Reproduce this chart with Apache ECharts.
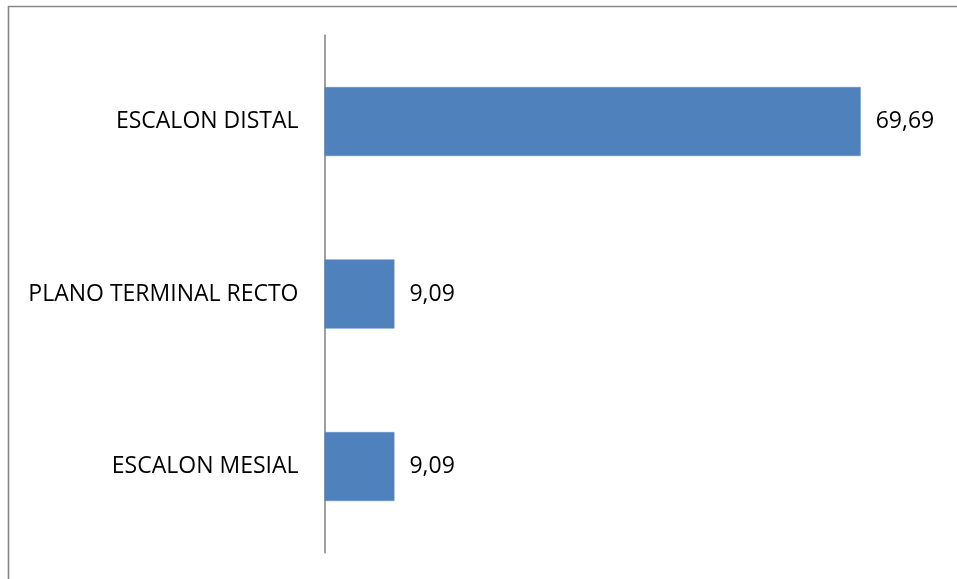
<!DOCTYPE html>
<html>
<head>
<meta charset="utf-8">
<script src="https://cdn.jsdelivr.net/npm/echarts@6/dist/echarts.min.js"></script>
<style>
  html, body { margin: 0; padding: 0; background: #ffffff; }
  #chart { width: 957px; height: 579px; }
</style>
</head>
<body>
<div id="chart"></div>
<script>
// Categories (top to bottom) and their percentages
const categories = ['ESCALON DISTAL', 'PLANO TERMINAL RECTO', 'ESCALON MESIAL'];
const values = [69.69, 9.09, 9.09];
const axisMax = 80;

const fmt = v => v.toFixed(2).replace('.', ',');

const chart = echarts.init(document.getElementById('chart'), null, { renderer: 'canvas' });

chart.setOption({
  animation: false,
  backgroundColor: '#ffffff',
  textStyle: { fontFamily: '"Open Sans", sans-serif' },
  graphic: [{
    type: 'rect',
    silent: true,
    shape: { x: 8.5, y: 6.5, width: 1000, height: 1000 },
    style: { fill: 'none', stroke: '#878787', lineWidth: 1.6 }
  }],
  grid: { left: 324.5, top: 35.25, width: 615.5, height: 517.5, containLabel: false },
  xAxis: {
    type: 'value',
    min: 0,
    max: axisMax,
    show: false
  },
  yAxis: {
    type: 'category',
    data: categories,
    inverse: true,
    axisLine: { show: true, lineStyle: { color: '#878787', width: 1.6 } },
    axisTick: { show: false },
    splitLine: { show: false },
    axisLabel: {
      margin: 26,
      color: '#000000',
      fontSize: 23,
      fontFamily: '"Open Sans", sans-serif'
    }
  },
  series: [{
    type: 'bar',
    data: values,
    barCategoryGap: '60%',
    itemStyle: { color: '#4f81bd', borderColor: '#5b8cc6', borderWidth: 0.5 },
    label: {
      show: true,
      position: 'right',
      distance: 15,
      color: '#000000',
      fontSize: 23,
      fontFamily: '"Open Sans", sans-serif',
      formatter: p => fmt(p.value)
    }
  }]
});
</script>
</body>
</html>
